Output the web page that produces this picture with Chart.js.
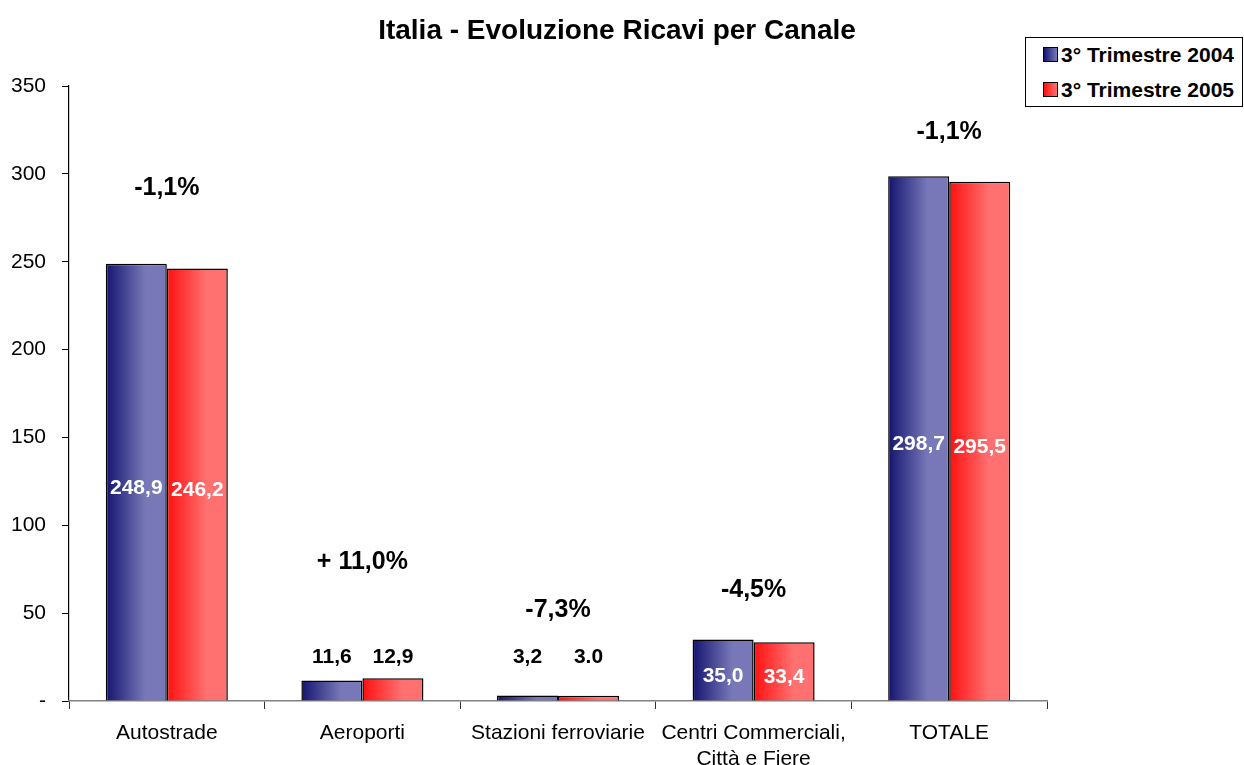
<!DOCTYPE html>
<html>
<head>
<meta charset="utf-8">
<script src="https://cdn.jsdelivr.net/npm/chart.js@4.4.1/dist/chart.umd.min.js"></script>
<style>
    html, body { margin: 0; padding: 0; background: #fff; }
    #wrap { position: relative; width: 1244px; height: 765px; }
    #legend {
        position: absolute; left: 1025px; top: 37px; width: 216px; height: 68px;
        border: 1.5px solid #000; background: #fff;
        font: bold 21px "Liberation Sans", Arial, sans-serif; color: #000;
    }
    #legend div { position: absolute; left: 17px; white-space: nowrap; line-height: 22px; }
    #legend span { display: inline-block; width: 13px; height: 13px; border: 1px solid #000; vertical-align: 0px; margin-right: 3px; }
</style>
</head>
<body>
<div id="wrap">
    <canvas id="chart" width="1244" height="765"></canvas>
    <div id="legend">
        <div style="top:6px"><span style="background:linear-gradient(90deg,#141470,#7878b8)"></span>3° Trimestre 2004</div>
        <div style="top:41px"><span style="background:linear-gradient(90deg,#ff1010,#ff7070)"></span>3° Trimestre 2005</div>
    </div>
</div>
<script>
// ─── Data ───────────────────────────────────────────────
const chartTitle = 'Italia - Evoluzione Ricavi per Canale';
const categories = ['Autostrade', 'Aeroporti', 'Stazioni ferroviarie', ['Centri Commerciali,', 'Città e Fiere'], 'TOTALE'];
const seriesNames = ['3° Trimestre 2004', '3° Trimestre 2005'];
const q3_2004 = [248.9, 11.6, 3.2, 35.0, 298.7];
const q3_2005 = [246.2, 12.9, 3.0, 33.4, 295.5];
const changeLabels = ['-1,1%', '+ 11,0%', '-7,3%', '-4,5%', '-1,1%'];
const yTicks = [0, 50, 100, 150, 200, 250, 300, 350];

// where the % change text sits (in axis units)
const changeLabelAt = [292, 79, 52, 63, 324];

const gradStops = [
    ['#141470', '#7878b8'],
    ['#ff1010', '#ff7070']
];

const FONT = '"Liberation Sans", Arial, sans-serif';

function fmt(v, decSep) {
    return v.toFixed(1).replace('.', decSep);
}

// horizontal gradient on every bar
const barGradient = {
    id: 'barGradient',
    beforeDatasetsDraw(chart) {
        const ctx = chart.ctx;
        chart.data.datasets.forEach((ds, di) => {
            chart.getDatasetMeta(di).data.forEach(bar => {
                const x0 = bar.x - bar.width / 2;
                const x1 = bar.x + bar.width / 2;
                const g = ctx.createLinearGradient(x0, 0, x1, 0);
                g.addColorStop(0, gradStops[di][0]);
                g.addColorStop(0.65, gradStops[di][1]);
                g.addColorStop(1, gradStops[di][1]);
                bar.options = Object.assign({}, bar.options, { backgroundColor: g });
            });
        });
    }
};

// value labels, % change text and the title (centred on the whole canvas)
const barLabels = {
    id: 'barLabels',
    afterDatasetsDraw(chart) {
        const ctx = chart.ctx;
        const y = chart.scales.y;
        ctx.save();
        ctx.textAlign = 'center';
        ctx.textBaseline = 'middle';
        ctx.font = 'bold 21px ' + FONT;
        chart.data.datasets.forEach((ds, di) => {
            chart.getDatasetMeta(di).data.forEach((bar, i) => {
                const v = ds.data[i];
                if (v > 20) {
                    ctx.fillStyle = '#fff';
                    ctx.fillText(fmt(v, ','), bar.x, (bar.y + bar.base) / 2 + 6);
                } else {
                    ctx.fillStyle = '#000';
                    // the source prints the Stazioni 2005 value with a dot
                    const sep = (i === 2 && di === 1) ? '.' : ',';
                    ctx.fillText(fmt(v, sep), bar.x, y.getPixelForValue(25));
                }
            });
        });
        ctx.font = 'bold 25px ' + FONT;
        ctx.fillStyle = '#000';
        const xs = chart.scales.x;
        changeLabels.forEach((t, i) => {
            ctx.fillText(t, xs.getPixelForValue(i), y.getPixelForValue(changeLabelAt[i]));
        });
        ctx.font = 'bold 28px ' + FONT;
        ctx.fillText(chartTitle, chart.width / 2 - 5, 31);
        ctx.restore();
    }
};

const barStyle = {
    borderColor: '#000',
    borderWidth: 1.5,
    borderSkipped: 'bottom',
    categoryPercentage: 0.624,
    barPercentage: 1
};

new Chart(document.getElementById('chart'), {
    type: 'bar',
    data: {
        labels: categories,
        datasets: [
            Object.assign({ label: seriesNames[0], data: q3_2004, backgroundColor: () => gradStops[0][0] }, barStyle),
            Object.assign({ label: seriesNames[1], data: q3_2005, backgroundColor: () => gradStops[1][0] }, barStyle)
        ]
    },
    options: {
        responsive: false,
        animation: false,
        devicePixelRatio: 1,
        layout: { padding: { left: 0, right: 197, top: 86, bottom: 0 } },
        plugins: {
            legend: { display: false },
            tooltip: { enabled: false },
            colors: { enabled: false },
            title: { display: false }
        },
        scales: {
            y: {
                min: 0,
                max: 350,
                afterBuildTicks: axis => { axis.ticks = yTicks.map(v => ({ value: v })); },
                afterFit: axis => { axis.width = 69; },
                ticks: {
                    color: '#000',
                    font: { family: FONT, size: 21 },
                    padding: 16,
                    callback: v => v === 0 ? '-' : v
                },
                grid: { drawOnChartArea: false, color: '#000', tickLength: 7, tickColor: '#000' },
                border: { color: '#000', width: 1.2 }
            },
            x: {
                afterFit: axis => { axis.height = 64; },
                ticks: {
                    color: '#000',
                    font: { family: FONT, size: 21 },
                    padding: 12,
                    maxRotation: 0,
                    autoSkip: false
                },
                grid: { offset: true, drawOnChartArea: false, tickLength: 8, color: '#555', tickColor: '#333' },
                border: { color: '#808080', width: 1.5 }
            }
        }
    },
    plugins: [barGradient, barLabels]
});
</script>
</body>
</html>
